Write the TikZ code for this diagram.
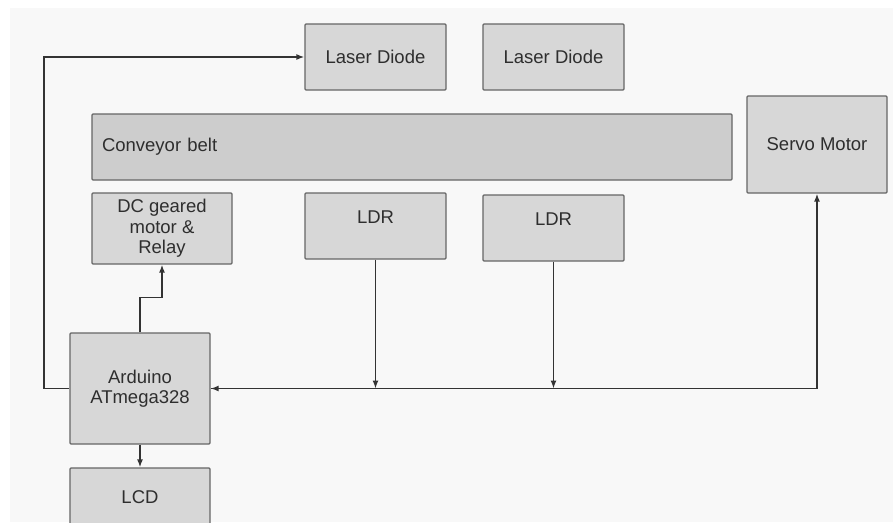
\documentclass[tikz,border=0pt]{standalone}
\usepackage{fontspec}
\setmainfont{Liberation Sans}
\usepackage{xcolor}
\usepackage{tikz}
\usetikzlibrary{positioning, arrows.meta, calc}
\definecolor{bdBox}{HTML}{D7D7D7}
\definecolor{bdBelt}{HTML}{CDCDCD}
\definecolor{bdEdge}{HTML}{666666}
\definecolor{bdWire}{HTML}{333333}
\definecolor{bdText}{HTML}{2E2E2E}
\definecolor{bdBg}{HTML}{F8F8F8}
\tikzset{
  block/.style={
    rectangle, rounded corners=1pt,
    draw=bdEdge, line width=1.3pt,
    fill=bdBox,
    inner sep=2pt,
    minimum width=141pt, minimum height=66pt,
    align=center, text=bdText,
    font=\fontsize{18.5}{20.5}\selectfont
  },
  wire/.style={
    -{Latex[length=8pt, width=6pt]},
    bdWire, line width=1.4pt
  }
}

\begin{document}
\begin{tikzpicture}[x=1pt, y=-1pt]
        \useasboundingbox (0,0) rectangle (893,522);
        \clip (0,0) rectangle (893,522);
        \fill[white] (0,0) rectangle (893,522);
        \fill[bdBg] (10,8) rectangle (893,522);
        % top row
        \node[block] (laser1) at (375.5, 57) {Laser Diode};
        \node[block] (laser2) at (553.5, 57) {Laser Diode};
        \node[block, minimum width=640pt, fill=bdBelt, inner xsep=10pt, text width=620pt, align=left] (belt) at (412, 147) {Conveyor belt};
        \node[block, minimum width=140pt, minimum height=97pt] (servo) at (817, 144.5) {Servo Motor};
        % sensor row
        \node[block, minimum width=140pt, minimum height=71pt] (dc) at (162, 228.5) {DC geared\\motor \&\\Relay};
        \node[block] (ldr1) at (375.5, 226) {\raisebox{9pt}[\height][\depth]{LDR}};
        \node[block] (ldr2) at (553.5, 228) {\raisebox{9pt}[\height][\depth]{LDR}};
        % controller
        \node[block, minimum width=140pt, minimum height=111pt] (ard) at (140, 388.5) {Arduino\\ATmega328};
        \node[block, minimum width=140pt, minimum height=58pt] (lcd) at (140, 497) {LCD};
        % wiring
        \coordinate (railtop) at (44, 57);
        \draw[wire] (ard.west) -| (railtop) -- (laser1.west);
        \draw[wire] (ard.north) -- ++(0,-35) -| (dc.south);
        \draw[wire] (ard.south) -- (lcd.north);
        \foreach \s in {ldr1, ldr2} {
          \draw[wire] (\s.south) -- (\s.south |- ard.east);
        }
        \draw[wire] (ard.east) -| (servo.south);
        \draw[wire] (ldr1.south |- ard.east) -- (ard.east);
      \end{tikzpicture}
\end{document}
